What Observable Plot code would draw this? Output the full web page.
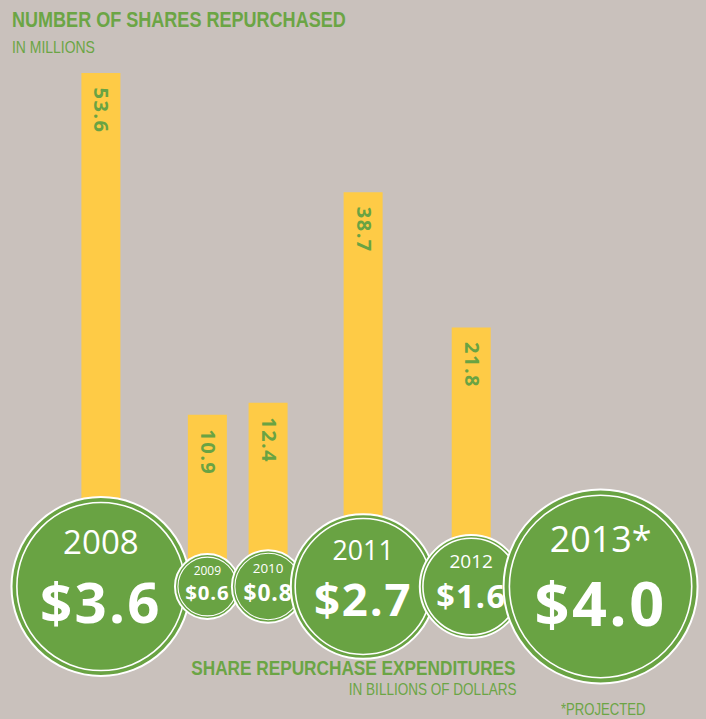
<!DOCTYPE html>
<html>
<head>
<meta charset="utf-8">
<script src="https://cdn.jsdelivr.net/npm/d3@7"></script>
<script src="https://cdn.jsdelivr.net/npm/@observablehq/plot@0.6"></script>
<style>
  html, body { margin: 0; padding: 0; background: #c9c1bc; }
  #wrap { position: relative; width: 706px; height: 719px; overflow: hidden; background: #c9c1bc; }
  #chart { position: absolute; left: 0; top: 0; }
  .t { position: absolute; color: #6ba545; line-height: 1; white-space: nowrap;
       font-family: "Liberation Sans", Arial, sans-serif;
       transform: scaleX(0.82); transform-origin: 0 0; }
  .t.r { transform-origin: 100% 0; text-align: right; }
  .b { font-weight: bold; }
</style>
</head>
<body>
<div id="wrap">
  <div id="chart"></div>
  <div class="t b" style="left:12px; top:9px; font-size:22px;">NUMBER OF SHARES REPURCHASED</div>
  <div class="t" style="left:12px; top:39px; font-size:17px;">IN MILLIONS</div>
  <div class="t b r" style="right:190px; top:657px; font-size:21px;">SHARE REPURCHASE EXPENDITURES</div>
  <div class="t r" style="right:190px; top:681px; font-size:16.5px;">IN BILLIONS OF DOLLARS</div>
  <div class="t" style="left:561px; top:702px; font-size:16px;">*PROJECTED</div>
</div>
<script>
// ---- data ----
const years = ["2008", "2009", "2010", "2011", "2012", "2013*"];
const sharesRepurchased = [53.6, 10.9, 12.4, 38.7, 21.8, null]; // millions of shares
const expenditures = [3.6, 0.6, 0.8, 2.7, 1.6, 4.0];            // billions of dollars

// ---- styling / layout parameters ----
const W = 706, H = 719;
const GREEN = "#69a343", TEXTGREEN = "#69a343", YELLOW = "#fecb46", WHITE = "#ffffff";
const FONT = "'Open Sans', 'Noto Sans', sans-serif";
const xSpec = {type: "linear", domain: [0, W], range: [0, W]};
const ySpec = {type: "linear", domain: [0, 53.6], range: [502, 73]};
const rSpec = {type: "linear", domain: [0, 4], range: [21, 97]};
const yS = Plot.scale({y: ySpec});
const rS = Plot.scale({r: rSpec});
const LEFT = 10, PACK = 0.86, ROW = 586, STROKE = 2;

// circles packed side by side from their scaled radii
const rows = years.map((year, i) => ({
  year, shares: sharesRepurchased[i], spend: expenditures[i], r: rS.apply(expenditures[i])
}));
rows.forEach((d, i) => {
  const outer = d.r + STROKE / 2;
  if (i === 0) d.cx = LEFT + outer;
  else { const p = rows[i - 1]; d.cx = p.cx + (p.r + STROKE / 2 + outer) * PACK; }
  d.cy = yS.invert(ROW);
  d.base = yS.invert(ROW);
  d.yearY = yS.invert(ROW - 0.36 * d.r);
  d.valY = yS.invert(ROW + 0.41 * d.r);
  d.yearSize = 0.37 * d.r;
  d.valSize = 0.63 * d.r;
  d.label = d3.format("$.1f")(d.spend);
});
const bars = rows.filter(d => d.shares != null);

const marks = [
  Plot.ruleX(bars, {x: "cx", y1: "base", y2: "shares", stroke: YELLOW, strokeWidth: 39}),
  Plot.text(bars, {
    x: "cx", y: "shares", text: d => d3.format(".1f")(d.shares),
    rotate: 90, textAnchor: "start", lineAnchor: "middle", dy: 14,
    fill: TEXTGREEN, fontSize: 20, fontWeight: "bold", fontFamily: FONT
  })
];
rows.forEach(d => {
  const one = [d];
  marks.push(
    Plot.dot(one, {x: "cx", y: "cy", r: "spend", fill: GREEN, stroke: WHITE, strokeWidth: STROKE}),
    Plot.dot(one, {x: "cx", y: "cy", r: "spend", fill: "none", stroke: WHITE,
                   strokeWidth: d.r > 45 ? 1.6 : 1.1}),
    Plot.text(one, {x: "cx", y: "yearY", text: "year", lineAnchor: "bottom",
                    fontSize: v => v.yearSize, fill: WHITE, fontFamily: FONT}),
    Plot.text(one, {x: "cx", y: "valY", text: "label", lineAnchor: "bottom",
                    fontSize: v => v.valSize, fontWeight: "bold", fill: WHITE, fontFamily: FONT})
  );
});

const svg = Plot.plot({
  width: W, height: H, margin: 0,
  x: {...xSpec, axis: null},
  y: {...ySpec, axis: null},
  r: rSpec,
  style: {background: "transparent", overflow: "visible"},
  marks
});

// inner white ring: every second circle (outer, inner, outer, inner, ...)
d3.select(svg).selectAll("circle").each(function (_, i) {
  if (i % 2 === 1) {
    const r = +this.getAttribute("r");
    this.setAttribute("r", r - Math.max(3, r * 0.06));
  }
});
const textGroups = d3.select(svg).selectAll("g").filter(function () {
  return this.querySelector(":scope > text") !== null;
}).nodes();
// first text group = bar labels; then per circle: year, value
if (textGroups.length) d3.select(textGroups[0]).selectAll("text").style("letter-spacing", "1.5px");
textGroups.slice(1).forEach((g, i) => {
  if (i % 2 === 1) d3.select(g).selectAll("text").style("letter-spacing", "0.04em");
});

document.getElementById("chart").appendChild(svg);
</script>
</body>
</html>
